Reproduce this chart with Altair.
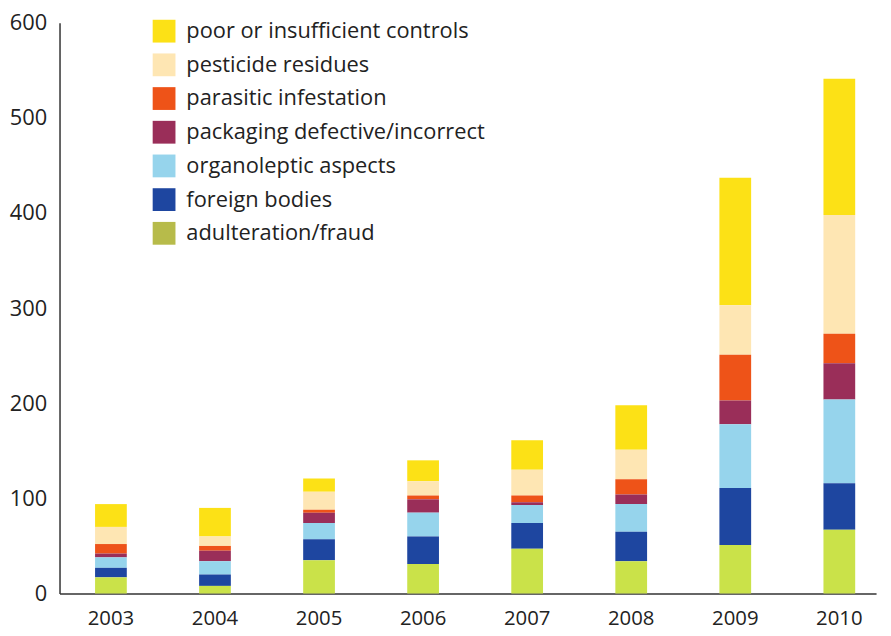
import altair as alt
import pandas as pd

years = ["2003", "2004", "2005", "2006", "2007", "2008", "2009", "2010"]
categories = [
    "poor or insufficient controls",
    "pesticide residues",
    "parasitic infestation",
    "packaging defective/incorrect",
    "organoleptic aspects",
    "foreign bodies",
    "adulteration/fraud",
]
bar_colors = ["#FCE116", "#FEE6B3", "#EE5318", "#9A2E59", "#96D4EC", "#1E46A0", "#CAE249"]
legend_colors = ["#FCE116", "#FEE6B3", "#EE5318", "#9A2E59", "#96D4EC", "#1E46A0", "#B7BB4A"]

poor = [24, 30, 14, 22, 31, 47, 134, 143]
pesticide = [18, 10, 19, 15, 27, 31, 52, 125]
parasitic = [10, 5, 3, 4, 7, 16, 48, 31]
packaging = [4, 11, 11, 14, 3, 10, 25, 38]
organoleptic = [11, 14, 17, 25, 19, 29, 67, 88]
foreign = [10, 12, 22, 29, 27, 31, 60, 49]
fraud = [17, 8, 35, 31, 47, 34, 51, 67]

series = [poor, pesticide, parasitic, packaging, organoleptic, foreign, fraud]

rows = []
for ci, (cat, vals) in enumerate(zip(categories, series)):
    for y, v in zip(years, vals):
        rows.append({"year": y, "category": cat, "value": v, "stack": len(categories) - 1 - ci})
df = pd.DataFrame(rows)

FONT = "Open Sans"

x_enc = alt.X(
    "year:N",
    title=None,
    sort=years,
    scale=alt.Scale(paddingInner=0.695, paddingOuter=0.271, align=0.63),
    axis=alt.Axis(
        labelAngle=0, ticks=False, domainColor="#333333", domainWidth=1.5,
        labelFontSize=20.5, labelColor="#222222", labelPadding=15, labelFont=FONT,
    ),
)
y_axis = alt.Axis(
    values=[0, 100, 200, 300, 400, 500, 600], ticks=False, grid=False,
    domainColor="#333333", domainWidth=1.5, labelFontSize=22,
    labelColor="#222222", labelPadding=13, labelFont=FONT,
)

bars = (
    alt.Chart(df)
    .mark_bar()
    .encode(
        x=x_enc,
        y=alt.Y("value:Q", title=None, stack="zero",
                scale=alt.Scale(domain=[0, 600], nice=False), axis=y_axis),
        fill=alt.Fill("category:N", sort=categories,
                      scale=alt.Scale(domain=categories, range=bar_colors), legend=None),
        order=alt.Order("stack:Q", sort="ascending"),
    )
)

legend_layer = (
    alt.Chart(df)
    .mark_square(size=0, filled=True, strokeWidth=0)
    .encode(
        x=x_enc,
        y=alt.Y("value:Q", title=None, stack=None,
                scale=alt.Scale(domain=[0, 600], nice=False), axis=y_axis),
        color=alt.Color(
            "category:N", sort=categories,
            scale=alt.Scale(domain=categories, range=legend_colors),
            legend=alt.Legend(
                title=None, orient="none", legendX=94, legendY=-3, padding=0,
                symbolType="square", symbolSize=529, symbolStrokeWidth=0,
                symbolOpacity=1, rowPadding=11, labelOffset=11, labelFontSize=22,
                labelColor="#222222", labelFont=FONT, labelLimit=400,
            ),
        ),
    )
)

chart = (
    alt.layer(bars, legend_layer)
    .resolve_scale(color="independent", fill="independent")
    .properties(
        width=824, height=576,
        autosize=alt.AutoSizeParams(type="none"),
        padding={"left": 52, "top": 12, "right": 7, "bottom": 40},
    )
    .configure_view(stroke=None)
)

chart.save("out.html", embed_options={"renderer": "svg", "actions": False})
